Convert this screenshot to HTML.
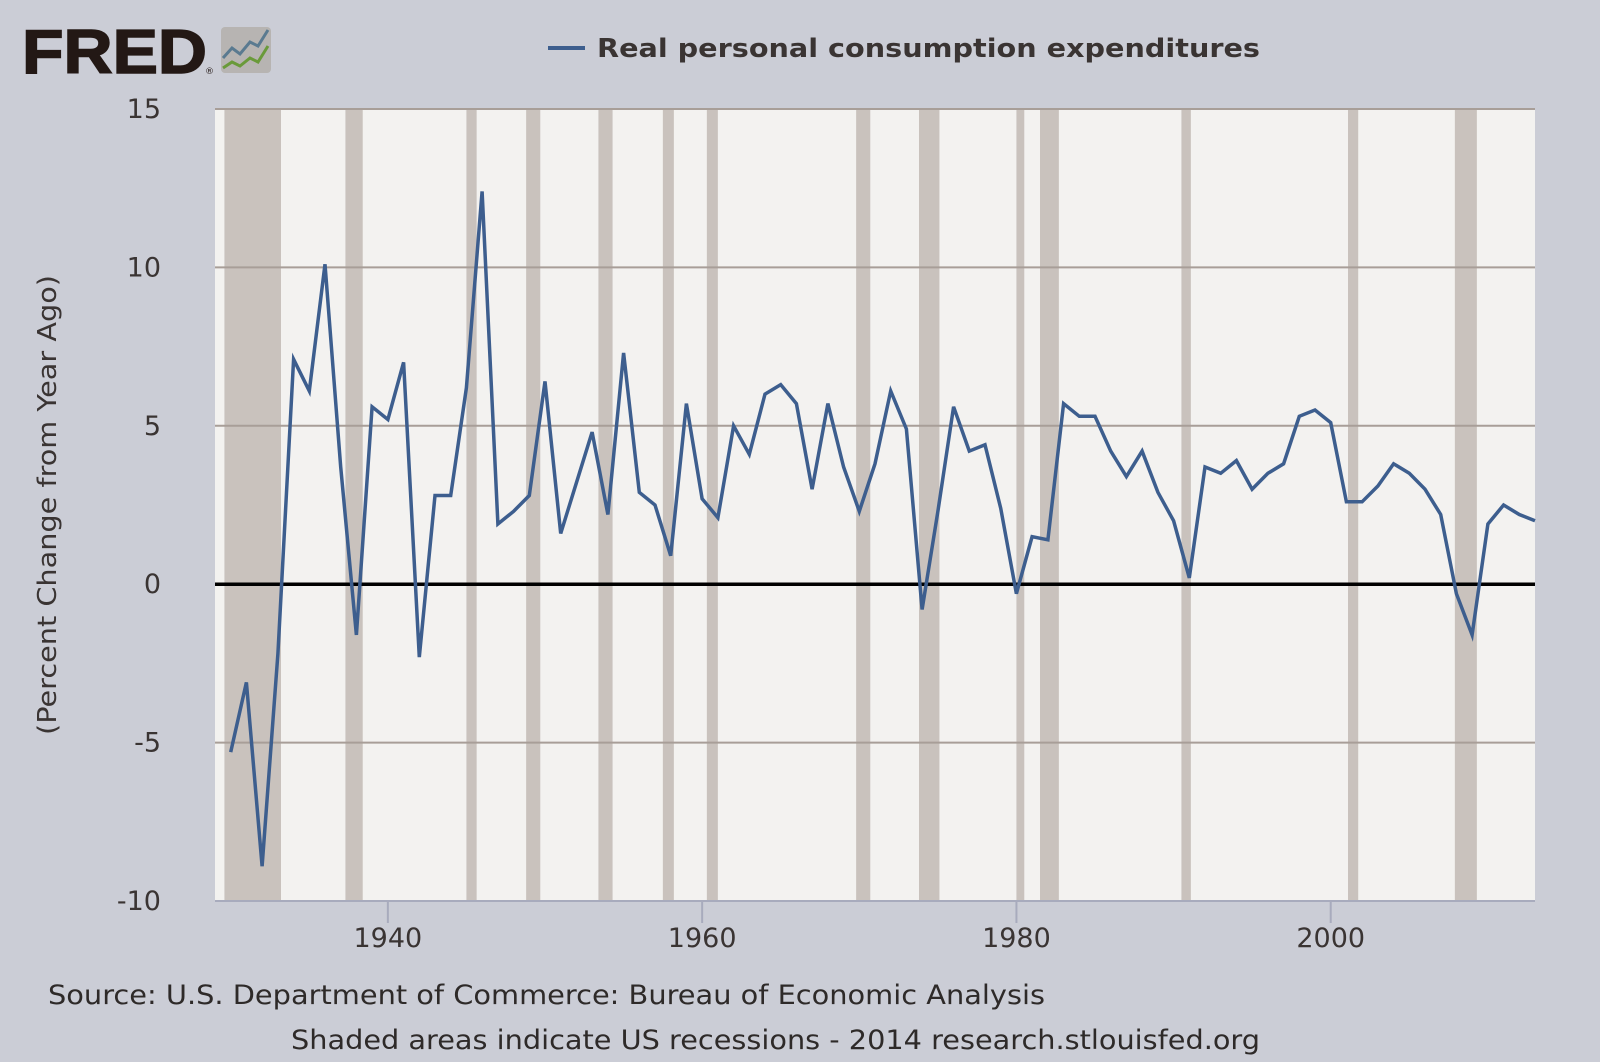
<!DOCTYPE html>
<html><head><meta charset="utf-8"><style>
html,body{margin:0;padding:0;background:#cbcdd6;}
svg{display:block;font-family:"DejaVu Sans","Liberation Sans",sans-serif;}
</style></head><body>
<svg id="chart" width="1600" height="1062" viewBox="0 0 1600 1062">
<rect width="1600" height="1062" fill="#cbcdd6"/>
<g>
<text x="22" y="73" font-family="Liberation Sans,sans-serif" font-weight="bold" font-size="62" fill="#231815" textLength="185" lengthAdjust="spacingAndGlyphs" stroke="#231815" stroke-width="1.5">FRED</text>
<text x="205" y="74" font-size="9" fill="#231815">®</text>
<rect x="221" y="27" width="50" height="46" rx="4" fill="#b7b4b2"/>
<polyline points="223,58 232,48 240,54 250,42 258,46 268,30" fill="none" stroke="#5a7a90" stroke-width="3"/>
<polyline points="223,68 232,62 240,66 250,58 258,62 268,46" fill="none" stroke="#6a9a3a" stroke-width="3"/>
</g>
<g>
<line x1="548" y1="48" x2="585" y2="48" stroke="#3d5e8e" stroke-width="4"/>
<text x="597" y="57" font-weight="bold" font-size="26" fill="#3a3433" textLength="663" lengthAdjust="spacingAndGlyphs">Real personal consumption expenditures</text>
</g>
<rect x="215" y="109" width="1320" height="792" fill="#f3f2f0"/>
<g id="recessions"></g>
<g id="grid"></g>
<g id="yticks"></g>
<g id="xticks"></g>
<line id="zero" x1="215" x2="1535" stroke="#000" stroke-width="3.5"/>
<path id="series" fill="none" stroke="#3d5e8e" stroke-width="3.5" stroke-linejoin="miter"/>
<text transform="translate(56,505) rotate(-90)" text-anchor="middle" font-size="26" fill="#3a3433" textLength="460" lengthAdjust="spacingAndGlyphs">(Percent Change from Year Ago)</text>
<text x="48" y="1004" font-size="27" fill="#2e2a29" textLength="997" lengthAdjust="spacingAndGlyphs">Source: U.S. Department of Commerce: Bureau of Economic Analysis</text>
<text x="291" y="1049" font-size="27" fill="#2e2a29" textLength="969" lengthAdjust="spacingAndGlyphs">Shaded areas indicate US recessions - 2014 research.stlouisfed.org</text>
</svg>
<script>
const years=[1930,1931,1932,1933,1934,1935,1936,1937,1938,1939,1940,1941,1942,1943,1944,1945,1946,1947,1948,1949,1950,1951,1952,1953,1954,1955,1956,1957,1958,1959,1960,1961,1962,1963,1964,1965,1966,1967,1968,1969,1970,1971,1972,1973,1974,1975,1976,1977,1978,1979,1980,1981,1982,1983,1984,1985,1986,1987,1988,1989,1990,1991,1992,1993,1994,1995,1996,1997,1998,1999,2000,2001,2002,2003,2004,2005,2006,2007,2008,2009,2010,2011,2012,2013];
const pceChange=[-5.3,-3.1,-8.9,-2.2,7.1,6.1,10.1,3.7,-1.6,5.6,5.2,7.0,-2.3,2.8,2.8,6.2,12.4,1.9,2.3,2.8,6.4,1.6,3.2,4.8,2.2,7.3,2.9,2.5,0.9,5.7,2.7,2.1,5.0,4.1,6.0,6.3,5.7,3.0,5.7,3.7,2.3,3.8,6.1,4.9,-0.8,2.3,5.6,4.2,4.4,2.4,-0.3,1.5,1.4,5.7,5.3,5.3,4.2,3.4,4.2,2.9,2.0,0.2,3.7,3.5,3.9,3.0,3.5,3.8,5.3,5.5,5.1,2.6,2.6,3.1,3.8,3.5,3.0,2.2,-0.3,-1.6,1.9,2.5,2.2,2.0];
const recessionStart=[1929.6,1937.3,1945.0,1948.8,1953.4,1957.5,1960.3,1969.8,1973.8,1980.0,1981.5,1990.5,2001.1,2007.9];
const recessionEnd=[1933.2,1938.4,1945.65,1949.7,1954.3,1958.2,1961.0,1970.7,1975.1,1980.5,1982.7,1991.1,2001.75,2009.3];
const yTicks=[15,10,5,-5,-10];
const yTickLabels=["15","10","5","-5","-10"];
const xTicks=[1940,1960,1980,2000];
const xTickLabels=["1940","1960","1980","2000"];

const X0=215,X1=1535,Y0=109,Y1=901,xMin=1929,xMax=2013,yMin=-10,yMax=15;
const xs=v=>X0+(v-xMin)/(xMax-xMin)*(X1-X0);
const ys=v=>Y1-(v-yMin)/(yMax-yMin)*(Y1-Y0);
const NS="http://www.w3.org/2000/svg";
function mk(tag,parent){const e=document.createElementNS(NS,tag);document.getElementById(parent).appendChild(e);return e;}

recessionStart.forEach((s,i)=>{
  const r=mk('rect','recessions');
  const a=Math.max(xs(s),X0), b=Math.min(xs(recessionEnd[i]),X1);
  r.setAttribute('x',a);r.setAttribute('y',Y0);r.setAttribute('width',b-a);r.setAttribute('height',Y1-Y0);
  r.setAttribute('fill','#c9c2bd');
  
  
});
yTicks.forEach((t,i)=>{
  const l=mk('line','grid');
  l.setAttribute('x1',X0);l.setAttribute('x2',X1);l.setAttribute('y1',ys(t));l.setAttribute('y2',ys(t));
  l.setAttribute('stroke',t===yMin?'#a8abbd':'#a89e98');l.setAttribute('stroke-width',2);
  
  
  const tx=mk('text','yticks');
  tx.setAttribute('x',161);tx.setAttribute('y',ys(t)+9);tx.setAttribute('text-anchor','end');
  tx.setAttribute('font-size','27');tx.setAttribute('fill','#3a3433');
  tx.textContent=yTickLabels[i];
  
  
});
{const tx=mk('text','yticks');tx.setAttribute('x',161);tx.setAttribute('y',ys(0)+9);tx.setAttribute('text-anchor','end');tx.setAttribute('font-size','27');tx.setAttribute('fill','#3a3433');tx.textContent='0';

}
xTicks.forEach((t,i)=>{
  const l=mk('line','xticks');
  l.setAttribute('x1',xs(t));l.setAttribute('x2',xs(t));l.setAttribute('y1',Y1);l.setAttribute('y2',Y1+22);
  l.setAttribute('stroke','#a8abbd');l.setAttribute('stroke-width',2);
  
  
  const tx=mk('text','xticks');
  tx.setAttribute('x',xs(t));tx.setAttribute('y',Y1+46);tx.setAttribute('text-anchor','middle');
  tx.setAttribute('font-size','27');tx.setAttribute('fill','#3a3433');
  tx.textContent=xTickLabels[i];
  
  
});
const z=document.getElementById('zero');z.setAttribute('y1',ys(0));z.setAttribute('y2',ys(0));
document.getElementById('series').setAttribute('d',years.map((y,i)=>(i?'L':'M')+xs(y).toFixed(1)+','+ys(pceChange[i]).toFixed(1)).join(''));
</script>
</body></html>
